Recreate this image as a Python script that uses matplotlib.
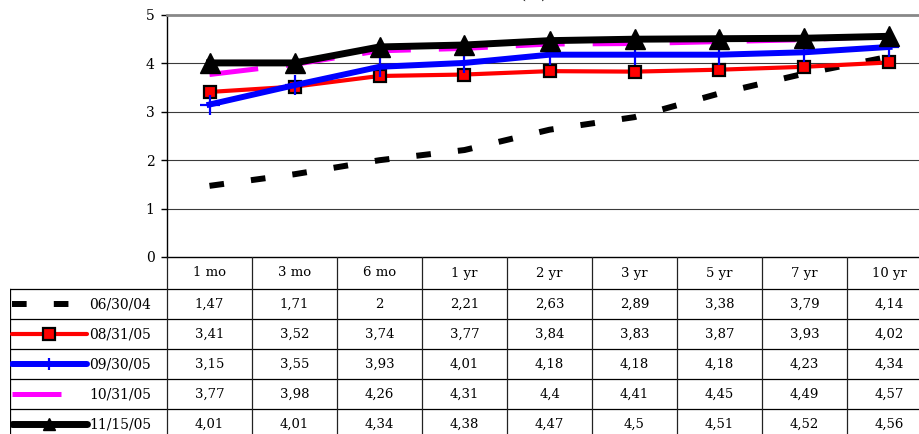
import numpy as np
import matplotlib
matplotlib.use('Agg')
from matplotlib import pyplot as plt

W, H = 919, 434

tenors = ['1 mo', '3 mo', '6 mo', '1 yr', '2 yr', '3 yr', '5 yr', '7 yr', '10 yr']
dates = ['06/30/04', '08/31/05', '09/30/05', '10/31/05', '11/15/05']
y_0604 = [1.47, 1.71, 2, 2.21, 2.63, 2.89, 3.38, 3.79, 4.14]
y_0805 = [3.41, 3.52, 3.74, 3.77, 3.84, 3.83, 3.87, 3.93, 4.02]
y_0905 = [3.15, 3.55, 3.93, 4.01, 4.18, 4.18, 4.18, 4.23, 4.34]
y_1005 = [3.77, 3.98, 4.26, 4.31, 4.4, 4.41, 4.45, 4.49, 4.57]
y_1105 = [4.01, 4.01, 4.34, 4.38, 4.47, 4.5, 4.51, 4.52, 4.56]
series = [y_0604, y_0805, y_0905, y_1005, y_1105]

# line styles per series
styles = [
	dict(color='black', lw=4.3, dashes=(2.45, 4.55), dash_capstyle='butt'),
	dict(color='#ff0000', lw=3.0, marker='s', ms=9, mfc='#ff0000', mec='black', mew=1.6),
	dict(color='#0000ff', lw=4.3, marker='+', ms=14, mec='#0000ff', mew=1.6),
	dict(color='#ff00ff', lw=3.6, dashes=(9.8, 5.6), dash_capstyle='butt'),
	dict(color='black', lw=5.0, marker='^', ms=14, mfc='black', mec='black'),
]
legend_ms = [0, 8, 9, 0, 9]

plt.rcParams['font.family'] = ['DejaVu Serif']

fig = plt.figure(figsize=(W / 100, H / 100), dpi=100)

# plot area runs past the right edge of the image
ax = fig.add_axes([167 / W, (H - 257) / H, 765 / W, 242 / H])
x = np.arange(len(tenors))
for vals, st in zip(series, styles):
	ax.plot(x, vals, **st)
ax.set_xlim(-0.5, 8.5)
ax.set_ylim(0, 5)
ax.set_yticks([0, 1, 2, 3, 4, 5])
ax.set_xticks([])
ax.tick_params(axis='y', direction='out', length=4, width=1, labelsize=10, pad=5)
for yv in [1, 2, 3, 4]:
	ax.axhline(yv, color='#3a3a3a', lw=0.8, zorder=0)
ax.spines['top'].set_color('#888888')
ax.spines['top'].set_linewidth(2)
ax.spines['right'].set_visible(False)
ax.spines['left'].set_linewidth(1)
ax.spines['bottom'].set_linewidth(1)
ax.patch.set_alpha(0)

fig.text(547 / W, 1 + 1 / H, 'Yield Curves (%)', ha='right', va='baseline', fontsize=11)

# data table under the plot
x_left = -0.5 - 157 / 85
tab = fig.add_axes([10 / W, (H - 439) / H, 922 / W, 182 / H])
tab.set_xlim(x_left, 8.5)
tab.set_ylim(182, 0)
tab.axis('off')

row_lines = [32, 62, 92, 122, 152, 182]
for yl in row_lines:
	tab.plot([x_left, 8.5], [yl, yl], color='black', lw=0.9)
for k in range(10):
	tab.plot([k - 0.5, k - 0.5], [0, 182], color='#222222', lw=0.9)
tab.plot([x_left, x_left], [32, 182], color='black', lw=0.9)

for i, t in enumerate(tenors):
	tab.text(i, 16, t, ha='center', va='center', fontsize=9.5)

x_sa = x_left + 2 / 85
x_sb = x_left + 77 / 85
x_sm = x_left + 39 / 85
for r, (d, vals, st) in enumerate(zip(dates, series, styles)):
	yc = 47 + 30 * r
	line_st = {k: v for k, v in st.items() if k not in ('marker', 'ms', 'mfc', 'mec', 'mew')}
	tab.plot([x_sa, x_sb], [yc, yc], solid_capstyle='round', **line_st)
	if 'marker' in st:
		tab.plot([x_sm], [yc], ls='none', marker=st['marker'], ms=legend_ms[r],
			mfc=st.get('mfc', st['color']), mec=st.get('mec', st['color']), mew=st.get('mew', 1))
	tab.text(x_left + 79 / 85, yc + 1, d, ha='left', va='center', fontsize=10)
	for i, v in enumerate(vals):
		tab.text(i, yc, f'{v:g}'.replace('.', ','), ha='center', va='center', fontsize=9.5)

plt.savefig('out.png', dpi=100)
